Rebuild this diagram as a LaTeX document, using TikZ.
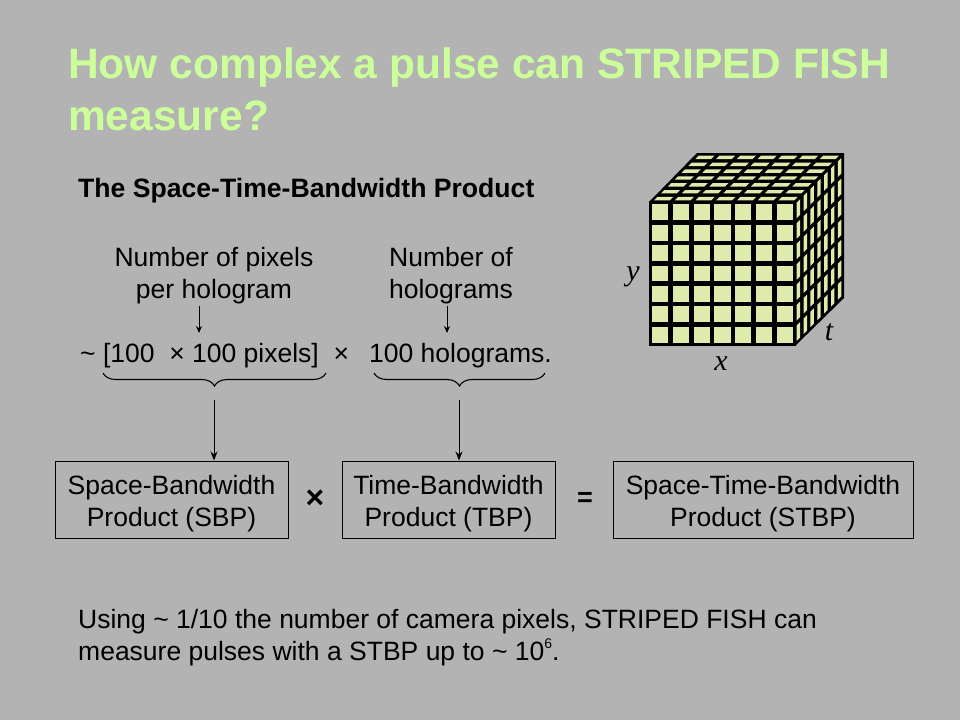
\documentclass[tikz,border=0pt]{standalone}
\usepackage{fontspec}
\setmainfont{Liberation Sans}
\newfontfamily\serifit{Liberation Serif}
\usetikzlibrary{decorations.pathreplacing,arrows.meta}
\definecolor{bggray}{RGB}{179,179,179}
\definecolor{titlegreen}{RGB}{204,255,153}
\definecolor{cellgreen}{RGB}{222,235,172}
\newcommand{\boxtext}[2]{\raisebox{-5pt}[\height][\depth]{\begin{tabular}{@{}c@{}}#1\\#2\end{tabular}}}
\tikzset{
  body/.style={font=\fontsize{26.5}{32}\selectfont, text=black, inner sep=0pt},
  boxnode/.style={draw=black, line width=1pt, font=\fontsize{26.5}{32}\selectfont, inner sep=0pt, minimum height=77pt},
  smallarrow/.style={-{Stealth[length=7pt,width=6pt]}, line width=0.8pt},
  bigarrow/.style={-{Stealth[length=9pt,width=7pt]}, line width=1pt},
  bracestyle/.style={decorate, decoration={brace, mirror, amplitude=13pt}, line width=1.1pt},
  axislabel/.style={font=\serifit\itshape\fontsize{30}{34}\selectfont, inner sep=0pt}
}
\begin{document}
\begin{tikzpicture}[x=1pt,y=-1pt]
\fill[bggray] (0,0) rectangle (960,720);
\useasboundingbox (0,0) rectangle (960,720);

% title
\node[anchor=base west, inner sep=0pt, text=titlegreen, font=\bfseries\fontsize{42.5}{52}\selectfont] (t1) at (68,78) {How complex a pulse can STRIPED FISH};
\node[anchor=base west, inner sep=0pt, text=titlegreen, font=\bfseries\fontsize{42.5}{52}\selectfont] (t2) at (68,130) {measure?};

% subtitle
\node[anchor=base west, inner sep=0pt, font=\bfseries\fontsize{26.6}{31}\selectfont] (sub) at (78,197) {The Space-Time-Bandwidth Product};

% labels
\node[body, anchor=base] (lab1a) at (214,266) {Number of pixels};
\node[body, anchor=base] (lab1b) at (214,298) {per hologram};
\node[body, anchor=base] (lab2a) at (451,266) {Number of};
\node[body, anchor=base] (lab2b) at (451,298) {holograms};

% formula
\node[body, anchor=base west] (f1) at (80,362) {\textasciitilde\ [100 \ × 100 pixels] \ ×};
\node[body, anchor=base west] (f2) at (369,362) {100 holograms.};

\coordinate (a1s) at (199,306);
\coordinate (a1e) at (199,333);
\coordinate (a2s) at (447,306);
\coordinate (a2e) at (447,333);
\draw[smallarrow] (a1s) -- (a1e);
\draw[smallarrow] (a2s) -- (a2e);

% braces
\coordinate (b1l) at (103,373);
\coordinate (b1r) at (326,373);
\coordinate (b2l) at (374,373);
\coordinate (b2r) at (545,373);
\draw[bracestyle] (b1l) -- (b1r);
\draw[bracestyle] (b2l) -- (b2r);
\coordinate (tip1) at (214,400);
\coordinate (tip2) at (459,400);

% boxes
\node[boxnode, minimum width=233pt] (sbp) at (171.5,499.5) {\boxtext{Space-Bandwidth}{Product (SBP)}};
\node[boxnode, minimum width=213pt] (tbp) at (448.5,499.5) {\boxtext{Time-Bandwidth}{Product (TBP)}};
\node[boxnode, minimum width=300pt] (stbp) at (763,499.5) {\boxtext{Space-Time-Bandwidth}{Product (STBP)}};
\node[inner sep=0pt, font=\bfseries\fontsize{32}{34}\selectfont] (times) at (315,499) {×};
\node[inner sep=0pt, font=\bfseries\fontsize{27}{30}\selectfont] (eq) at (585,499) {=};

\draw[bigarrow] (tip1) -- (tip1 |- sbp.north);
\draw[bigarrow] (tip2) -- (tip2 |- tbp.north);

% bottom text
\node[body, anchor=base west] (bt1) at (78,628) {Using \textasciitilde\ 1/10 the number of camera pixels, STRIPED FISH can};
\node[body, anchor=base west] (bt2) at (78,660) {measure pulses with a STBP up to \textasciitilde\ 10\raisebox{0.45em}{\fontsize{14}{14}\selectfont 6}.};

% cube
\def\W{145}\def\H{143}\def\DX{48}\def\DY{48}
\fill[black] (649,201) rectangle (796,346);
\fill[black] (649,202) -- (796,202) -- (844,153) -- (697,153) -- cycle;
\fill[black] (795,201) -- (844,153) -- (844,298) -- (795,346) -- cycle;
\foreach \i in {0,...,6}{
  \foreach \j in {0,...,6}{
    % front
    \fill[cellgreen] ({650+(\i+0.11)*\W/7},{202+(\j+0.11)*\H/7}) rectangle ({650+(\i+0.89)*\W/7},{202+(\j+0.89)*\H/7});
    % top
    \fill[cellgreen] ({650+(\i+0.12)*\W/7+(\j+0.25)*\DX/7},{202-(\j+0.25)*\DY/7})
      -- ({650+(\i+0.88)*\W/7+(\j+0.25)*\DX/7},{202-(\j+0.25)*\DY/7})
      -- ({650+(\i+0.88)*\W/7+(\j+0.75)*\DX/7},{202-(\j+0.75)*\DY/7})
      -- ({650+(\i+0.12)*\W/7+(\j+0.75)*\DX/7},{202-(\j+0.75)*\DY/7}) -- cycle;
    % right
    \fill[cellgreen] ({795+(\i+0.25)*\DX/7},{345-(\j+0.12)*\H/7-(\i+0.25)*\DY/7})
      -- ({795+(\i+0.75)*\DX/7},{345-(\j+0.12)*\H/7-(\i+0.75)*\DY/7})
      -- ({795+(\i+0.75)*\DX/7},{345-(\j+0.88)*\H/7-(\i+0.75)*\DY/7})
      -- ({795+(\i+0.25)*\DX/7},{345-(\j+0.88)*\H/7-(\i+0.25)*\DY/7}) -- cycle;
  }
}
\node[axislabel] (ly) at (633,277) {y};
\node[axislabel] (lt) at (829,332) {t};
\node[axislabel] (lx) at (721,364) {x};
\end{tikzpicture}
\end{document}
